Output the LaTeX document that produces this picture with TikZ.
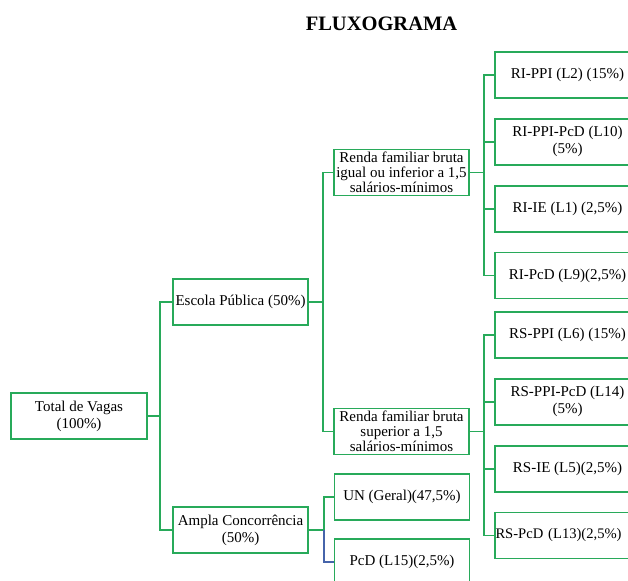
\documentclass[tikz,border=0pt]{standalone}
\usepackage{fontspec}
\setmainfont{Liberation Serif}
\usetikzlibrary{positioning}

\definecolor{lineGreen}{RGB}{40,170,90}
\definecolor{lineBlue}{RGB}{70,100,170}

\begin{document}
\begin{tikzpicture}[x=1pt, y=-1pt, node distance=19pt,
  box/.style={rectangle, draw=lineGreen, line width=1.8pt, align=center,
    minimum height=46pt, inner sep=1pt, font=\fontsize{15}{17}\selectfont},
  midbox/.style={box, minimum width=135pt},
  rendabox/.style={box, minimum width=135pt, font=\fontsize{15}{15}\selectfont},
  leafbox/.style={box, minimum width=145pt},
  wire/.style={draw=lineGreen, line width=1.8pt}]
  \useasboundingbox (0,0) rectangle (628,580);

  % Title
  \node[font=\fontsize{20.5}{22}\selectfont\bfseries] (title) at (381.5,24) {FLUXOGRAMA};

  % Nodes
  \node[box, minimum width=136pt] (total) at (79,416) {Total de Vagas\\(100\%)};
  \node[midbox] (escola) at (240.5,302) {Escola Pública (50\%)};
  \node[midbox] (ampla) at (240.5,530) {Ampla Concorrência\\(50\%)};

  \node[rendabox] (rendaInf) at (401.5,172.5) {Renda familiar bruta\\igual ou inferior a 1,5\\salários-mínimos};
  \node[rendabox] (rendaSup) at (401.5,431.5) {Renda familiar bruta\\superior a 1,5\\salários-mínimos};

  \node[leafbox] (riPPI) at (567.5,75) {RI-PPI (L2) (15\%)};
  \node[leafbox, below=of riPPI] (riPPIPcD) {RI-PPI-PcD (L10)\\(5\%)};
  \node[leafbox, below=of riPPIPcD] (riIE) {RI-IE (L1) (2,5\%)};
  \node[leafbox, below=of riIE] (riPcD) {RI-PcD (L9)(2,5\%)};

  \node[leafbox] (rsPPI) at (567.5,335) {RS-PPI (L6) (15\%)};
  \node[leafbox, below=of rsPPI] (rsPPIPcD) {RS-PPI-PcD (L14)\\(5\%)};
  \node[leafbox, below=of rsPPIPcD] (rsIE) {RS-IE (L5)(2,5\%)};
  \node[leafbox, below=of rsIE, text width=144pt, inner xsep=0.5pt, align=left,
    font=\fontsize{14.6}{17}\selectfont] (rsPcD) {RS-PcD (L13)(2,5\%)};

  \node[midbox] (un) at (402,497) {UN (Geral)(47,5\%)};
  \node[midbox, below=17pt of un] (pcd) {PcD (L15)(2,5\%)};

  % Lines
  \draw[wire] (total.east) -- +(12,0) |- (escola.west);
  \draw[wire] (total.east) -- +(12,0) |- (ampla.west);
  \draw[wire] (escola.east) -- +(14,0) |- (rendaInf.west);
  \draw[wire] (escola.east) -- +(14,0) |- (rendaSup.west);
  \foreach \leaf in {riPPI, riPPIPcD, riIE, riPcD}
    \draw[wire] (rendaInf.east) -- +(14,0) |- (\leaf.west);
  \foreach \leaf in {rsPPI, rsPPIPcD, rsIE, rsPcD}
    \draw[wire] (rendaSup.east) -- +(14,0) |- (\leaf.west);
  \draw[wire] (ampla.east) -- +(15,0) |- (un.west);
  \draw[wire, draw=lineBlue] ([xshift=15pt]ampla.east) |- (pcd.west);
\end{tikzpicture}
\end{document}
